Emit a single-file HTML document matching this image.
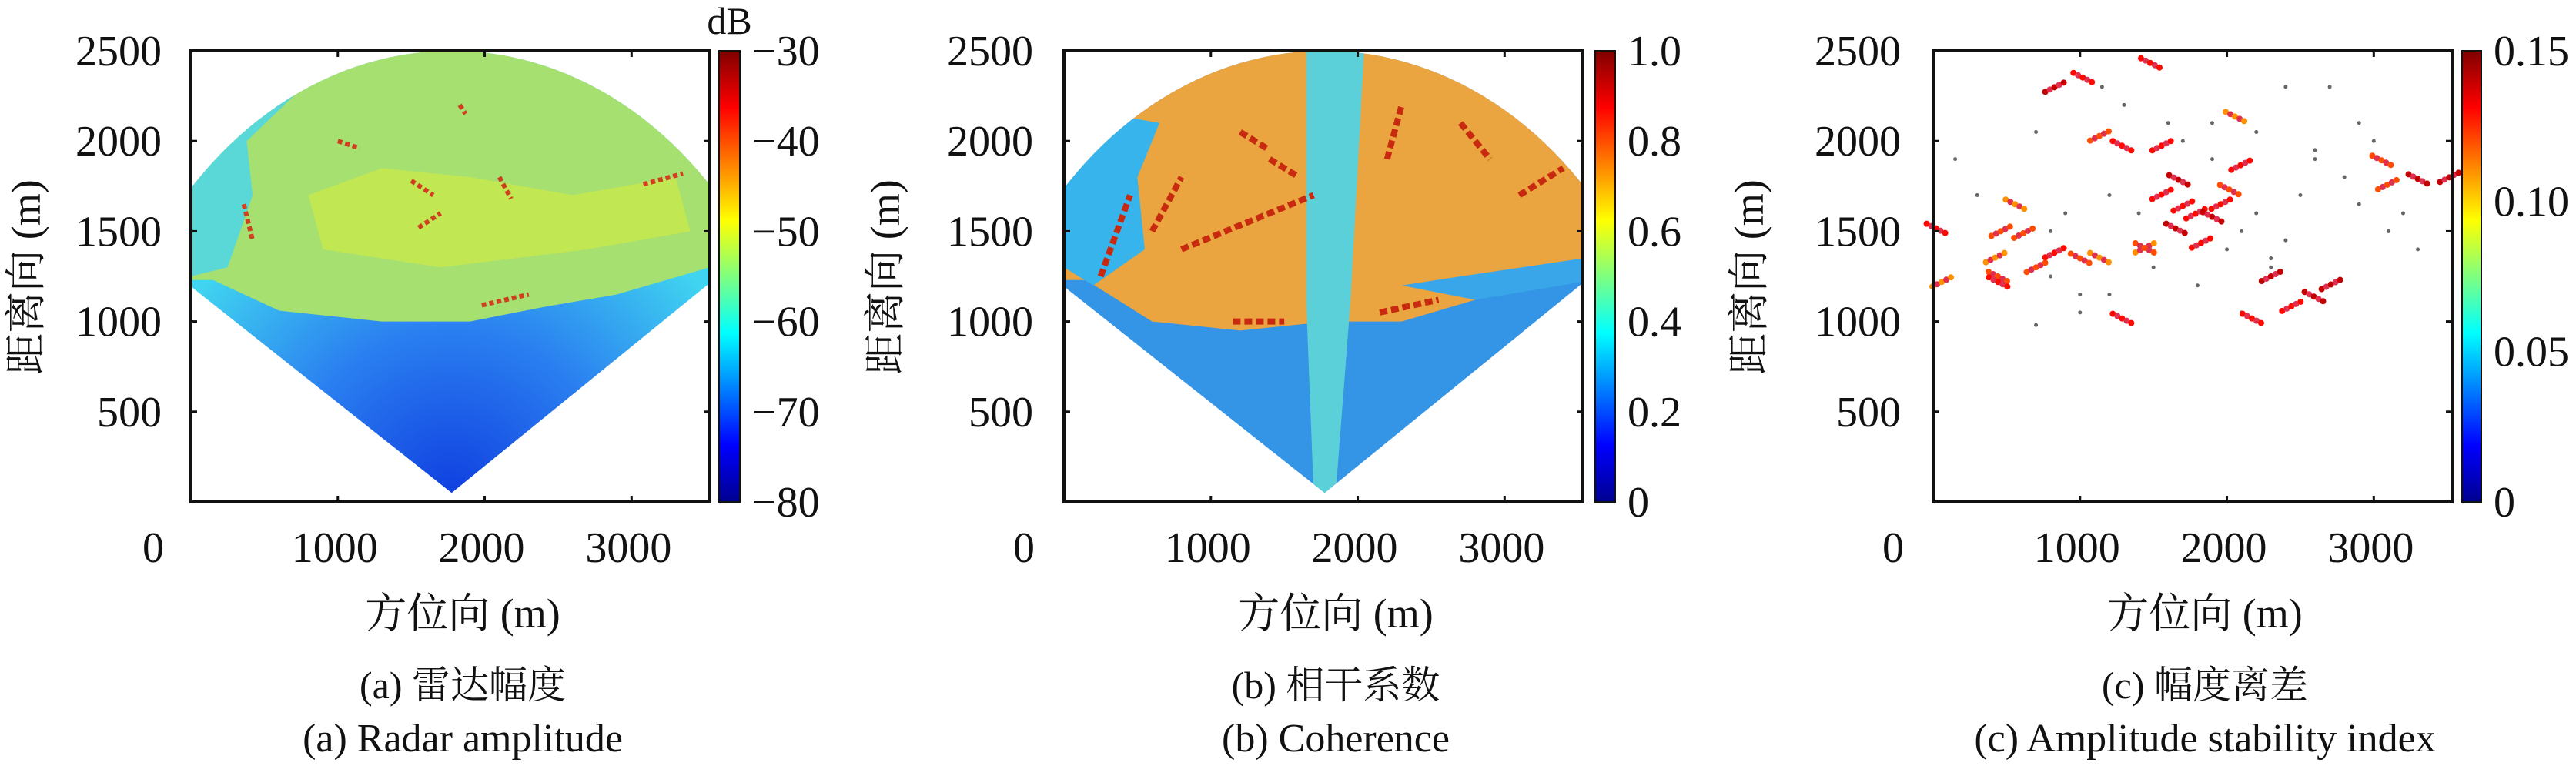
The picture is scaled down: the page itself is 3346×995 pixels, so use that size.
<!DOCTYPE html>
<html><head><meta charset="utf-8">
<style>
html,body{margin:0;padding:0;background:#fff;}
text{font-family:"Liberation Serif","DejaVu Serif","Noto Serif CJK SC",serif;fill:#111;}
</style></head>
<body>
<svg id="fig" xmlns="http://www.w3.org/2000/svg" width="3346" height="990" viewBox="0 0 3346 990">
<defs>
<linearGradient id="jet" x1="0" y1="1" x2="0" y2="0">
<stop offset="0" stop-color="#00008f"/><stop offset="0.125" stop-color="#0000ff"/>
<stop offset="0.375" stop-color="#00ffff"/><stop offset="0.625" stop-color="#ffff00"/>
<stop offset="0.875" stop-color="#ff0000"/><stop offset="1" stop-color="#800000"/>
</linearGradient>
</defs>
</svg>
<script>
// axis domain
const xMax = 3533, yMax = 2500;
const xTicks = [1000, 2000, 3000];
const yTicks = [500, 1000, 1500, 2000, 2500];
// fan geometry (metres, degrees)
const apex = [1775, 50];
const fanRadius = 2450;
const fanAngleLeft = 147.2;
const fanAngleRight = 33.5;
// panel a regions
const ampUpper = [[150,1230],[600,1060],[1300,1000],[1900,1000],[2400,1080],[2900,1150],[3533,1300],[3533,2600],[0,2600],[0,1230]];
const ampCyanLeft = [[0,1250],[250,1300],[420,1700],[380,2000],[700,2250],[300,2300],[0,2000]];
const ampBright = [[800,1700],[1300,1850],[1900,1800],[2600,1700],[3300,1800],[3400,1500],[2700,1400],[1700,1300],[900,1400]];
const ampStreaks = [[1000,2000,1150,1960],[1500,1780,1650,1700],[2100,1800,2180,1680],[3080,1760,3350,1820],[360,1650,420,1450],[1980,1090,2300,1150],[1550,1520,1700,1600],[1830,2200,1870,2150]];
// panel b regions
const cohUpper = [[150,1230],[600,1000],[1200,950],[1800,1000],[2300,1000],[2800,1120],[3533,1300],[3533,2600],[0,2600],[0,1230]];
const cohCyanLeft = [[0,1300],[200,1200],[550,1400],[500,1800],[650,2100],[300,2150],[0,1900]];
const cohChannel = [[1700,50],[1850,50],[1950,1100],[2050,2600],[1650,2600],[1650,1100]];
const cohChannel2 = [[2300,1200],[2700,1250],[3533,1350],[3533,1220],[2800,1120]];
const cohRed = [[800,1400,1700,1700],[250,1250,450,1700],[1200,2050,1400,1950],[2200,1900,2300,2200],[3100,1700,3400,1850],[2150,1050,2550,1120],[1150,1000,1500,1000],[600,1500,800,1800],[2700,2100,2900,1900],[1400,1900,1600,1800]];
// panel c clusters: x, y, value (0-0.15)
const stabX = [58,19,422,440,460,557,614,1018,1132,1286,1555,1670,1555,2055,2093,2016,1786,1650,1958,442,700,1000,1440,2170,2439,2592,2708,1286,3092,3300,3514,3053,826,1478,1824,1132,826,1440,1700,1900,2300];
const stabY = [1219,1516,1354,1250,1500,1650,1489,2352,2028,1974,1974,1785,1704,2136,1866,1731,1597,1516,1650,1219,1300,1350,1408,1017,1084,1138,1205,1017,1758,1790,1799,1893,2298,2433,1435,1354,1381,1408,1640,1580,1250];
const stabV = [0.11,0.13,0.11,0.12,0.12,0.11,0.12,0.13,0.12,0.13,0.13,0.14,0.13,0.11,0.13,0.12,0.13,0.14,0.13,0.13,0.12,0.12,0.11,0.13,0.13,0.14,0.14,0.13,0.12,0.14,0.14,0.12,0.14,0.13,0.13,0.11,0.13,0.12,0.13,0.14,0.14];
const grayX = [150,300,700,800,900,1000,1150,1200,1300,1400,1500,1600,1700,1800,1900,2000,2100,2200,2300,2400,2500,2600,2700,2800,2900,3000,3100,3200,2200,2400,2600,2100,2300,1900,1200,1000,700,800,2900,3300];
const grayY = [1900,1700,2050,1250,1600,1150,2300,1700,2200,1600,1300,2100,2000,1200,1900,1400,1500,1600,1350,1450,1700,1900,2300,1800,2100,2000,1500,1600,2050,2300,1950,1050,1300,2100,1150,1050,980,1500,1650,1400];
const cbTicksA = [-30,-40,-50,-60,-70,-80];
const cbTicksB = ["1.0","0.8","0.6","0.4","0.2","0"];
const cbTicksC = ["0.15","0.10","0.05","0"];

const NS = "http://www.w3.org/2000/svg";
const svg = document.getElementById('fig');
const FONT = '"Liberation Serif","DejaVu Serif","Noto Serif CJK SC",serif';
function mk(tag, attrs, parent){const e=document.createElementNS(NS,tag);for(const k in attrs)e.setAttribute(k,attrs[k]);if(tag==='text')e.style.fontFamily=FONT;(parent||svg).appendChild(e);return e;}
const top0 = 66, bot0 = 652, W = 674;
const FS = 56;

function jet(t){
  const stops=[[0,[0,0,143]],[0.125,[0,0,255]],[0.375,[0,255,255]],[0.625,[255,255,0]],[0.875,[255,0,0]],[1,[128,0,0]]];
  t=Math.max(0,Math.min(1,t));
  for(let i=1;i<stops.length;i++){if(t<=stops[i][0]){const a=stops[i-1],b=stops[i];const f=(t-a[0])/(b[0]-a[0]);
    return 'rgb('+a[1].map((v,j)=>Math.round(v+(b[1][j]-v)*f)).join(',')+')';}}
  return 'rgb(128,0,0)';
}

function panel(id, left, cbLeft, cbW, cbLabels, tickLabelX, ylabX, capCJK, capEN, zeroX, dB){
  const g = mk('g',{});  
  const sx = m => left + m / xMax * W;
  const sy = m => bot0 - m / yMax * (bot0 - top0);
  const pts = arr => arr.map(p => sx(p[0]) + ',' + sy(p[1])).join(' ');
  const defs = svg.querySelector('defs');
  const clipId = 'clip-' + id;
  const cp = mk('clipPath',{id:clipId}, defs);
  const fanPts = [apex];
  for(let i=0;i<=60;i++){const a=(fanAngleLeft+(fanAngleRight-fanAngleLeft)*i/60)*Math.PI/180;
    fanPts.push([apex[0]+fanRadius*Math.cos(a), apex[1]+fanRadius*Math.sin(a)]);}
  mk('polygon',{points:pts(fanPts)}, cp);
  mk('rect',{x:left,y:top0,width:W,height:bot0-top0}, mk('clipPath',{id:clipId+'-box'},defs));
  const img = mk('g',{'clip-path':`url(#${clipId}-box)`}, g);
  const fan = mk('g',{'clip-path':`url(#${clipId})`}, img);
  
  
  return {g, fan, sx, sy, pts, ax:sx(apex[0]), ay:sy(apex[1]), finish(){
    const box = mk('rect',{x:left,y:top0,width:W,height:bot0-top0,fill:'none',stroke:'#111','stroke-width':4}, g);
     
    yTicks.forEach(v=>{
      mk('line',{x1:left,x2:left+8,y1:sy(v),y2:sy(v),stroke:'#111','stroke-width':3},g);
      mk('line',{x1:left+W-8,x2:left+W,y1:sy(v),y2:sy(v),stroke:'#111','stroke-width':3},g);
      const t=mk('text',{x:tickLabelX,y:sy(v)+19,'text-anchor':'end','font-size':FS},g); t.textContent=v;
       
    });
    xTicks.forEach(v=>{
      mk('line',{x1:sx(v),x2:sx(v),y1:bot0,y2:bot0-8,stroke:'#111','stroke-width':3},g);
      mk('line',{x1:sx(v),x2:sx(v),y1:top0,y2:top0+8,stroke:'#111','stroke-width':3},g);
      const t=mk('text',{x:sx(v)-4,y:730,'text-anchor':'middle','font-size':FS},g); t.textContent=v;
       
    });
    const z=mk('text',{x:zeroX,y:730,'text-anchor':'middle','font-size':FS},g); z.textContent='0';
     
    const cx = left + W/2 + 16;
    const xl=mk('text',{x:cx,y:815,'text-anchor':'middle','font-size':54},g); xl.textContent='方位向 (m)';
     
    const yl=mk('text',{x:0,y:0,'text-anchor':'middle','font-size':54,transform:`translate(${ylabX},360) rotate(-90)`},g); yl.textContent='距离向 (m)';
     
    const c1=mk('text',{x:cx,y:907,'text-anchor':'middle','font-size':50},g); c1.textContent=capCJK;
     
    const c2=mk('text',{x:cx,y:976,'text-anchor':'middle','font-size':52},g); c2.textContent=capEN;
     
    const cb=mk('rect',{x:cbLeft,y:top0,width:cbW,height:bot0-top0,fill:'url(#jet)',stroke:'#111','stroke-width':2},g);
     
    cbLabels.forEach((lab,i)=>{
      const y = top0 + i/(cbLabels.length-1)*(bot0-top0);
      const t=mk('text',{x:cbLeft+cbW+16,y:y+19,'font-size':FS},g); t.textContent=(typeof lab==='number'&&lab<0)?'−'+Math.abs(lab):lab;
       
    });
    if(dB){const d=mk('text',{x:cbLeft+cbW/2,y:44,'text-anchor':'middle','font-size':50},g); d.textContent='dB';
       }
  }};
}

// ---- Panel a
const A = panel('a', 248, 934, 27, cbTicksA, 210, 52, '(a) 雷达幅度', '(a) Radar amplitude', 199, true);
{
  const rg = mk('radialGradient',{id:'ampRad',cx:A.ax,cy:A.ay,r:420,gradientUnits:'userSpaceOnUse'},svg.querySelector('defs'));
  mk('stop',{offset:0,'stop-color':'#1040e0'},rg);mk('stop',{offset:0.5,'stop-color':'#2a7ef0'},rg);mk('stop',{offset:1,'stop-color':'#40d4f0'},rg);
  mk('rect',{x:0,y:0,width:3346,height:990,fill:'url(#ampRad)'},A.fan);
  const up=mk('polygon',{points:A.pts(ampUpper),fill:'#a6e070'},A.fan);  
  mk('polygon',{points:A.pts(ampCyanLeft),fill:'#5ad8d8'},A.fan);
  mk('polygon',{points:A.pts(ampBright),fill:'#c8e84c',opacity:0.8},A.fan);
  ampStreaks.forEach(s=>{const l=mk('line',{x1:A.sx(s[0]),y1:A.sy(s[1]),x2:A.sx(s[2]),y2:A.sy(s[3]),stroke:'#d04020','stroke-width':6,'stroke-dasharray':'6 4'},A.fan);
     });
  A.finish();
}
// ---- Panel b
const B = panel('b', 1382, 2072, 26, cbTicksB, 1342, 1168, '(b) 相干系数', '(b) Coherence', 1330, false);
{
  mk('rect',{x:0,y:0,width:3346,height:990,fill:'#3494e6'},B.fan);
  const up=mk('polygon',{points:B.pts(cohUpper),fill:'#eaa440'},B.fan);  
  mk('polygon',{points:B.pts(cohCyanLeft),fill:'#38b4ec'},B.fan);
  mk('polygon',{points:B.pts(cohChannel),fill:'#5cd0d8'},B.fan);
  mk('polygon',{points:B.pts(cohChannel2),fill:'#3aa6ea'},B.fan);
  cohRed.forEach(s=>{const l=mk('line',{x1:B.sx(s[0]),y1:B.sy(s[1]),x2:B.sx(s[2]),y2:B.sy(s[3]),stroke:'#c82a10','stroke-width':8,'stroke-dasharray':'10 5'},B.fan);
     });
  B.finish();
}
// ---- Panel c
const C = panel('c', 2511, 3198, 25, cbTicksC, 2469, 2290, '(c) 幅度离差', '(c) Amplitude stability index', 2459, false);
{
  grayX.forEach((x,i)=>{const d=mk('circle',{cx:C.sx(x),cy:C.sy(grayY[i]),r:2.5,fill:'#666'},C.g);
     });
  stabX.forEach((x,i)=>{
    const col = jet(stabV[i]/0.15);
    for(let k=-2;k<=2;k++){
      const d=mk('circle',{cx:C.sx(x)+k*6,cy:C.sy(stabY[i])+k*(i%2?3:-3),r:4,fill:k%2?'#e03050':col},C.g);
       
    }
  });
  C.finish();
}
</script>
</body></html>
